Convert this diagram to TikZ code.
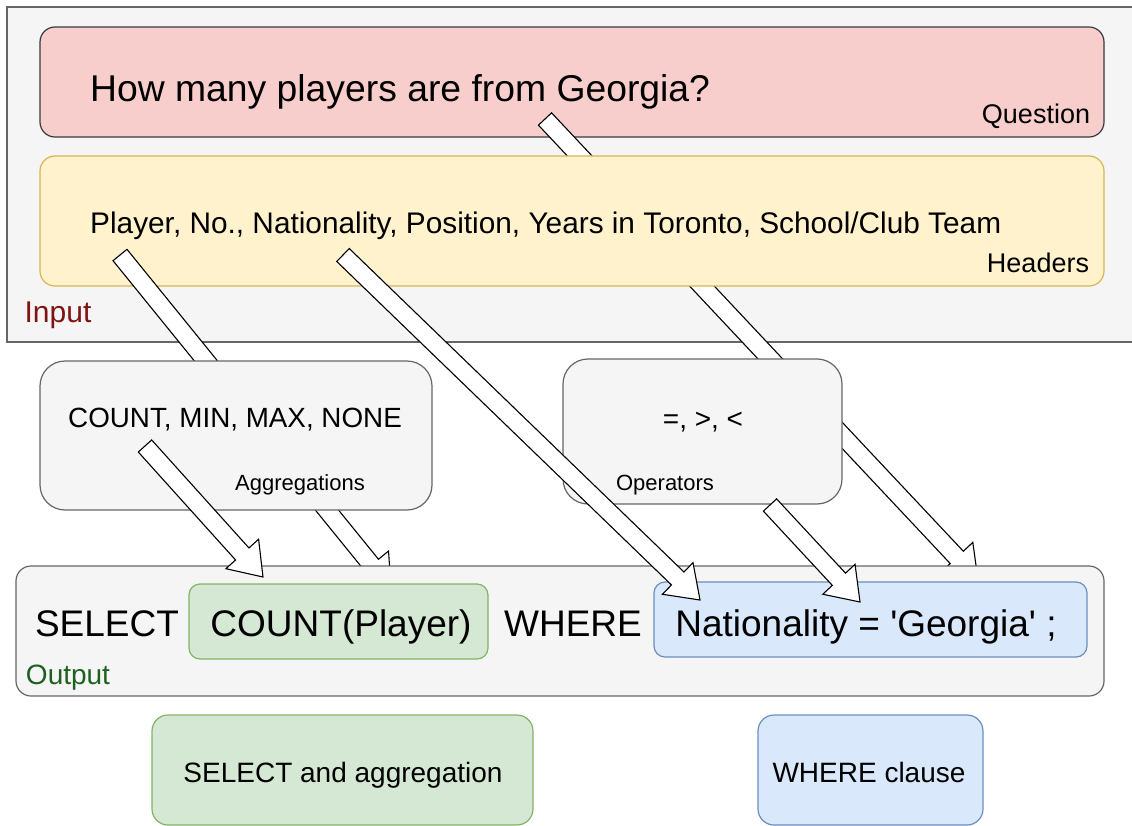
\documentclass[tikz,border=0pt]{standalone}
\usepackage{fontspec}
\setmainfont{Liberation Sans}
\usetikzlibrary{calc, shapes, arrows}
\definecolor{boxgray}{HTML}{F5F5F5}
\definecolor{linegray}{HTML}{666666}
\definecolor{qfill}{HTML}{F8CECC}
\definecolor{qline}{HTML}{36393D}
\definecolor{hfill}{HTML}{FFF2CC}
\definecolor{hline}{HTML}{D6B656}
\definecolor{gfill}{HTML}{D5E8D4}
\definecolor{gline}{HTML}{82B366}
\definecolor{bfill}{HTML}{DAE8FC}
\definecolor{bline}{HTML}{6C8EBF}
\definecolor{indark}{HTML}{7F1414}
\definecolor{outdark}{HTML}{1F5F1F}
\newcommand{\fsz}[1]{\fontsize{#1}{#1}\selectfont}
% box as high as the capitals, so that the node centre is the centre of the capitals
\newcommand{\capbox}[1]{\raisebox{0pt}[0.72em][0pt]{#1}}
\tikzstyle{box} = [rectangle, draw, line width=1.2pt, inner sep=0pt]
\tikzstyle{txt} = [inner sep=0pt]
\tikzstyle{fatarrow} = [draw, fill=white, line width=1.1pt, line join=miter]
% block arrow from tail to tip (shaft 18, head 44 wide and 31 long)
\newcommand{\bigarrow}[2]{%
  \coordinate (#1base) at ($(#2)!31pt!(#1)$);
  \draw[fatarrow] ($(#1)!9pt!90:(#2)$) -- ($(#1base)!9pt!90:(#2)$) -- ($(#1base)!22pt!90:(#2)$) -- (#2)
      -- ($(#1base)!22pt!-90:(#2)$) -- ($(#1base)!9pt!-90:(#2)$) -- ($(#1)!9pt!-90:(#2)$) -- cycle;
}

\begin{document}
\begin{tikzpicture}[x=1pt, y=-1pt]
        \useasboundingbox (0,0) rectangle (1132,826);

        % input part
        \node[box, draw=linegray, fill=boxgray, minimum width=1128, minimum height=335] at (571,174.5) (Input) {};
        \node[txt, text=indark, font=\fsz{30}] at (58,312) (InputLabel) {\capbox{Input}};
        \node[box, draw=qline, fill=qfill, rounded corners=15, minimum width=1064, minimum height=110] at (572,82) (Question) {};
        \node[txt, anchor=west, font=\fsz{37.3}] at (90,88) (QuestionText) {\capbox{How many players are from Georgia?}};
        \node[txt, font=\fsz{27}] at (1036,114) (QuestionLabel) {\capbox{Question}};

        \coordinate (qTail) at (545,119);
        \coordinate (qTip) at (978,580);
        \bigarrow{qTail}{qTip}

        \node[box, draw=hline, fill=hfill, rounded corners=15, minimum width=1064, minimum height=130] at (572,221) (Headers) {};
        \node[txt, anchor=west, font=\fsz{29.8}] at (90,222.5) (HeadersText) {\capbox{Player, No., Nationality, Position, Years in Toronto, School/Club Team}};
        \node[txt, font=\fsz{27}] at (1038,263) (HeadersLabel) {\capbox{Headers}};

        \coordinate (playerTail) at (120,255);
        \coordinate (playerTip) at (391,589);
        \bigarrow{playerTail}{playerTip}

        % aggregations and operators
        \node[box, draw=linegray, fill=boxgray, rounded corners=25, minimum width=392, minimum height=149] at (236,435.5) (Aggregations) {};
        \node[txt, font=\fsz{27.8}] at (235,417.5) (AggText) {\capbox{COUNT, MIN, MAX, NONE}};
        \node[txt, font=\fsz{22}] at (300,483) (AggLabel) {\capbox{Aggregations}};
        \node[box, draw=linegray, fill=boxgray, rounded corners=25, minimum width=279, minimum height=145] at (702.5,431.5) (Operators) {};
        \node[txt, font=\fsz{28}] at (703,418) (OpText) {\capbox{=, >, <}};
        \node[txt, font=\fsz{22}] at (665,483) (OpLabel) {\capbox{Operators}};

        % output part
        \node[box, draw=linegray, fill=boxgray, rounded corners=15, minimum width=1088, minimum height=130] at (560,631) (Output) {};
        \node[txt, font=\fsz{37}] at (107,623) (SelectWord) {\capbox{SELECT}};
        \node[box, draw=gline, fill=gfill, rounded corners=11, minimum width=299, minimum height=75] at (338.5,621.5) (SelectPart) {};
        \node[txt, font=\fsz{37}] at (341,623) (SelectText) {\capbox{COUNT(Player)}};
        \node[txt, font=\fsz{37}] at (573,623) (WhereWord) {\capbox{WHERE}};
        \node[box, draw=bline, fill=bfill, rounded corners=11, minimum width=433, minimum height=75] at (870.5,619.5) (WherePart) {};
        \node[txt, font=\fsz{37}] at (866,623) (WhereText) {\capbox{Nationality = \textquotesingle Georgia\textquotesingle\ ;}};
        \node[txt, text=outdark, font=\fsz{28}] at (68,674) (OutputLabel) {\capbox{Output}};

        \coordinate (natTail) at (343,255);
        \coordinate (natTip) at (700,600);
        \coordinate (opTail) at (770,505);
        \coordinate (opTip) at (860,602);
        \coordinate (countTail) at (145,446);
        \coordinate (countTip) at (263,577);
        \bigarrow{natTail}{natTip}
        \bigarrow{opTail}{opTip}
        \bigarrow{countTail}{countTip}

        % legend
        \node[box, draw=gline, fill=gfill, rounded corners=16, minimum width=381, minimum height=110] at (342.5,770) (SelectLegend) {};
        \node[txt, font=\fsz{28}] at (343,772) (SelectLegendText) {\capbox{SELECT and aggregation}};
        \node[box, draw=bline, fill=bfill, rounded corners=16, minimum width=225, minimum height=110] at (870.5,770) (WhereLegend) {};
        \node[txt, font=\fsz{28}] at (869,772) (WhereLegendText) {\capbox{WHERE clause}};

\end{tikzpicture}
\end{document}
